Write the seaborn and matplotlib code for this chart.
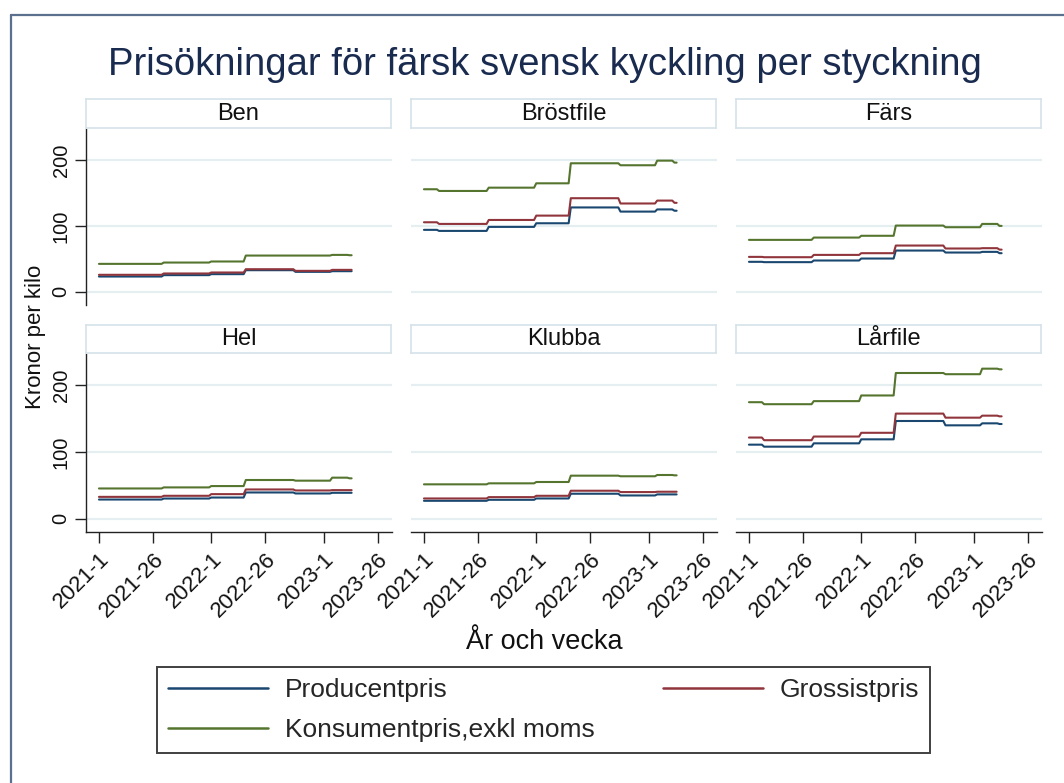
import numpy as np
import pandas as pd
import matplotlib
matplotlib.use("Agg")
import matplotlib.pyplot as plt
import seaborn as sns
from matplotlib.lines import Line2D

sns.set_theme(style="white")
plt.rcParams["font.family"] = ["Liberation Sans", "DejaVu Sans"]

# ---------------- data ----------------
products = ["Ben", "Bröstfile", "Färs", "Hel", "Klubba", "Lårfile"]
series_names = ["Producentpris", "Grossistpris", "Konsumentpris,exkl moms"]
# week index (0 = 2021-1) where each price level starts; data ends at 2023-14
seg_start = [0, 7, 30, 52, 68, 91, 108, 116]
n_weeks = 118
tick_weeks = [0, 25, 52, 77, 104, 129]
tick_labels = ["2021-1", "2021-26", "2022-1", "2022-26", "2023-1", "2023-26"]

ben_prod = [23.2, 23.2, 25.3, 26.8, 32.8, 30.3, 31.3, 31.3]
ben_gross = [25.8, 25.8, 27.8, 29.3, 34.3, 31.8, 33.3, 33.3]
ben_kons = [42.4, 42.4, 44.4, 46.0, 55.0, 55.0, 56.0, 55.5]

brost_prod = [94.0, 92.4, 98.5, 104.0, 128.0, 121.7, 125.0, 123.0]
brost_gross = [105.5, 103.0, 109.0, 115.6, 142.0, 134.0, 138.4, 135.0]
brost_kons = [155.6, 153.0, 158.0, 164.6, 195.0, 192.0, 199.0, 196.0]

fars_prod = [45.5, 45.0, 47.5, 50.5, 62.6, 59.6, 60.6, 58.6]
fars_gross = [53.0, 52.5, 56.0, 58.6, 70.2, 65.7, 66.2, 64.0]
fars_kons = [78.8, 78.8, 82.3, 85.0, 100.5, 98.0, 103.0, 100.0]

hel_prod = [28.7, 28.7, 30.2, 31.7, 39.3, 37.8, 38.8, 38.8]
hel_gross = [32.7, 32.7, 34.3, 36.8, 43.8, 42.3, 42.8, 42.8]
hel_kons = [45.3, 45.3, 46.9, 48.9, 58.0, 57.0, 61.5, 60.5]

klubba_prod = [26.8, 26.8, 28.3, 30.3, 37.4, 34.8, 36.4, 36.4]
klubba_gross = [30.3, 30.3, 32.3, 34.3, 41.9, 39.9, 40.4, 40.4]
klubba_kons = [51.5, 51.5, 53.0, 55.0, 64.5, 63.6, 65.5, 65.0]

lar_prod = [111.0, 108.0, 113.0, 119.0, 146.5, 140.0, 143.0, 142.0]
lar_gross = [121.7, 117.7, 123.2, 128.8, 157.6, 151.5, 154.5, 153.5]
lar_kons = [174.7, 171.7, 176.3, 184.8, 218.5, 216.7, 225.0, 224.0]

levels = {
    "Ben": [ben_prod, ben_gross, ben_kons],
    "Bröstfile": [brost_prod, brost_gross, brost_kons],
    "Färs": [fars_prod, fars_gross, fars_kons],
    "Hel": [hel_prod, hel_gross, hel_kons],
    "Klubba": [klubba_prod, klubba_gross, klubba_kons],
    "Lårfile": [lar_prod, lar_gross, lar_kons],
}

seg_len = np.diff(seg_start + [n_weeks])
rows = []
for p in products:
    for s, lv in zip(series_names, levels[p]):
        vals = np.repeat(lv, seg_len)
        for w, v in enumerate(vals):
            rows.append((p, s, w, v))
df = pd.DataFrame(rows, columns=["product", "series", "week", "price"])

colors = ["#1a476f", "#90353b", "#55752f"]
palette = dict(zip(series_names, colors))

# ---------------- figure ----------------
W, H = 1064, 783
fig = plt.figure(figsize=(W / 100, H / 100), dpi=100)
fig.patch.set_facecolor("white")

col_left = [86, 411, 736]
plot_w = 306
row_top = [129, 354]
row_bot = [305, 532]
strip_top = [99, 325]

for i, p in enumerate(products):
    r, c = divmod(i, 3)
    left = col_left[c]
    ax = fig.add_axes([left / W, 1 - row_bot[r] / H, plot_w / W, (row_bot[r] - row_top[r]) / H])
    sub = df[df["product"] == p]
    sns.lineplot(data=sub, x="week", y="price", hue="series", palette=palette,
                 hue_order=series_names, ax=ax, legend=False, lw=1.5)
    ax.set_xlim(-6, 135.7)
    ax.set_ylim(-20, 247)
    ax.set_yticks([0, 100, 200])
    ax.set_xticks(tick_weeks)
    ax.yaxis.grid(True, color="#e5eef1", lw=1.6)
    ax.xaxis.grid(False)
    ax.set_axisbelow(True)
    ax.set_xlabel("")
    ax.set_ylabel("")
    for sp in ["top", "right"]:
        ax.spines[sp].set_visible(False)
    ax.spines["left"].set_visible(c == 0)
    ax.spines["bottom"].set_visible(r == 1)
    for sp in ["left", "bottom"]:
        ax.spines[sp].set_color("#222222")
        ax.spines[sp].set_linewidth(1.0)
    if c == 0:
        ax.set_yticklabels(["0", "100", "200"], rotation=90, va="center", fontsize=14.5,
                           color="#111111")
        ax.tick_params(axis="y", left=True, length=8, width=1, color="#222222", pad=3)
    else:
        ax.tick_params(axis="y", left=False, labelleft=False)
    if r == 1:
        ax.set_xticklabels(tick_labels, rotation=45, ha="right", rotation_mode="anchor",
                           fontsize=16, color="#111111")
        ax.tick_params(axis="x", bottom=True, length=8, width=1, color="#222222", pad=4)
    else:
        ax.tick_params(axis="x", bottom=False, labelbottom=False)

    # strip box
    sax = fig.add_axes([left / W, 1 - (row_top[r] - 1) / H, 305 / W, (row_top[r] - 1 - strip_top[r]) / H])
    sax.set_xticks([])
    sax.set_yticks([])
    for sp in sax.spines.values():
        sp.set_color("#d5e3ea")
        sp.set_linewidth(1.2)
    sax.text(0.5, 0.5, p, ha="center", va="center", fontsize=17, color="#111111",
             transform=sax.transAxes)

fig.text(545 / W, 1 - 65 / H, "Prisökningar för färsk svensk kyckling per styckning",
         ha="center", va="center", fontsize=27.5, color="#1a2b50")
fig.text(36 / W, 1 - 337 / H, "Kronor per kilo", rotation=90, ha="center", va="center",
         fontsize=16, color="#111111")
fig.text(544 / W, 1 - 642 / H, "År och vecka", ha="center", va="center",
         fontsize=19.5, color="#111111")

handles = [Line2D([], [], color=col, lw=1.8) for col in colors]
# column-major order so rows read: Producentpris | Grossistpris / Konsumentpris
order = [0, 2, 1]
leg = fig.legend([handles[k] for k in order], [series_names[k] for k in order],
                 loc="center", ncol=2, mode="expand",
                 bbox_to_anchor=(157 / W, 1 - 753 / H, (930 - 157) / W, 86 / H),
                 frameon=True, fancybox=False, fontsize=19, handlelength=3.8,
                 handletextpad=0.65, labelspacing=0.62, borderaxespad=0, borderpad=0.4,
                 columnspacing=2)
leg.get_frame().set_edgecolor("#111111")
leg.get_frame().set_linewidth(1.4)

# outer frame lines
fig.add_artist(Line2D([11 / W, 11 / W], [0, 1 - 15 / H], transform=fig.transFigure,
                      color="#5b6f8e", lw=1.6))
fig.add_artist(Line2D([11 / W, 1], [1 - 15 / H, 1 - 15 / H], transform=fig.transFigure,
                      color="#5b6f8e", lw=1.6))

fig.savefig("out.png", dpi=100)
